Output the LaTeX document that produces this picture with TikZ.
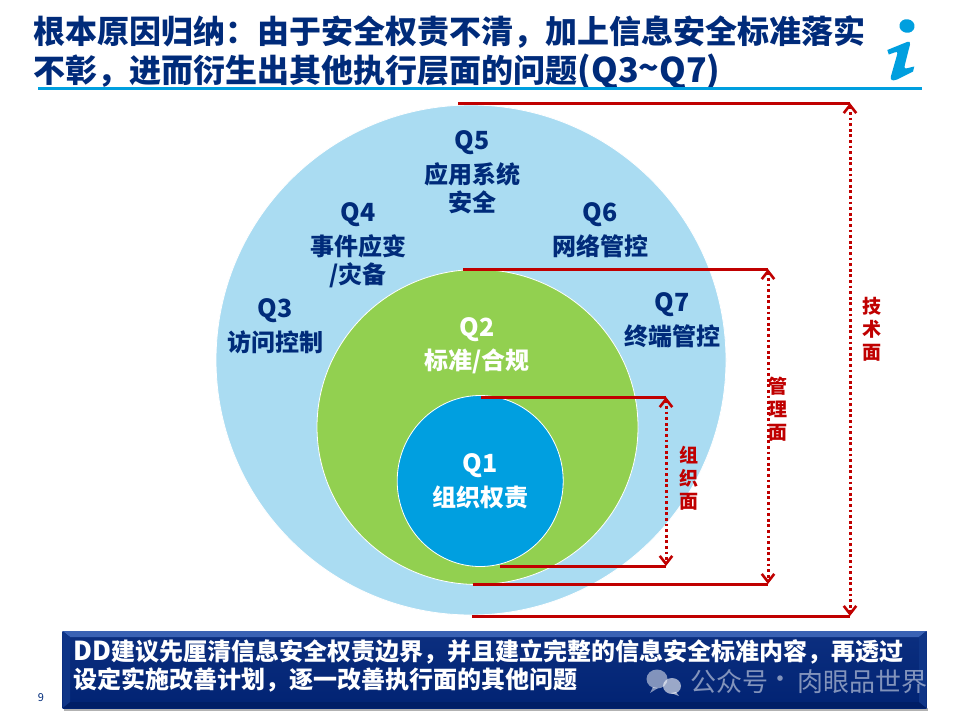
\documentclass[tikz,border=0pt]{standalone}
\usepackage{fontspec}
\setmainfont{Noto Sans CJK SC}
\usetikzlibrary{arrows.meta,shapes.geometric}
\definecolor{navy}{HTML}{002B7A}
\definecolor{skyc}{HTML}{AADCF2}
\definecolor{greenc}{HTML}{92D050}
\definecolor{bluec}{HTML}{009FE0}
\definecolor{redc}{HTML}{C00000}
\definecolor{rulec}{HTML}{009FDF}
\definecolor{boxtop}{HTML}{0C2F80}
\definecolor{boxbot}{HTML}{012373}
\definecolor{bevtop}{HTML}{3A62B4}
\definecolor{bevbot}{HTML}{001E66}
\definecolor{bevside}{HTML}{0F3587}
\tikzset{
  lab/.style={font=\fontsize{24}{28}\selectfont\bfseries,text=navy,inner sep=0pt,align=center},
  qlab/.style={lab,font=\fontsize{25}{28}\selectfont\bfseries},
  wlab/.style={lab,text=white},
  wqlab/.style={qlab,text=white},
  ring/.style={ellipse,draw=white,line width=0.8pt,inner sep=0pt},
  rline/.style={draw=redc,line width=3pt},
  rdim/.style={draw=redc,line width=3pt,dash pattern=on 2.8pt off 2.8pt,
     {Straight Barb[length=8pt,width=12.5pt,line width=2.6pt]}-{Straight Barb[length=8pt,width=12.5pt,line width=2.6pt]}},
  rlab/.style={font=\fontsize{19}{23}\selectfont\bfseries,text=redc,inner sep=0pt,align=center},
  ttl/.style={font=\fontsize{32}{40}\selectfont\bfseries,text=navy,anchor=west,inner sep=0pt},
  btxt/.style={font=\fontsize{24}{30}\selectfont\bfseries,text=white,anchor=west,inner sep=0pt},
  wmk/.style={font=\fontsize{26}{30}\selectfont,text=white,opacity=0.5,anchor=west,inner sep=0pt},
}
\begin{document}
\begin{tikzpicture}[x=1pt,y=-1pt]
\useasboundingbox (0,0) rectangle (960,720);
\fill[white] (0,0) rectangle (960,720);
% title
\node[ttl] (t1) at (33.5,32) {根本原因归纳：由于安全权责不清，加上信息安全标准落实};
\node[ttl] (t2) at (33.5,72) {不彰，进而衍生出其他执行层面的问题{\fontsize{34}{40}\selectfont(Q3\raisebox{0.1ex}{\textasciitilde}Q7)}};
\fill[rulec] (38,86.5) rectangle (921.5,89.5);
% i logo
\fill[rulec,rotate around={-10:(907,26)}] (907,26) ellipse (7.6pt and 6.8pt);
\fill[rulec] (887.3,50) -- (907,42) .. controls (909.5,41) and (910.5,42) .. (910,44.5)
  -- (904.8,65) .. controls (904,68.5) and (905,69) .. (908,68) -- (914.3,66.5)
  -- (913,71.5) -- (897,79.5) .. controls (892,81.5) and (890,80) .. (891,76)
  -- (897.3,54) .. controls (897.8,52) and (897,51.5) .. (895,52.3) -- (888.8,54.5) -- cycle;
% circles
\node[ring,minimum width=510pt,minimum height=510pt,fill=skyc] (c3) at (471,360) {};
\node[ring,minimum width=321pt,minimum height=315pt,fill=greenc] (c2) at (477.5,427) {};
\node[ring,minimum width=166pt,minimum height=171pt,fill=bluec] (c1) at (480.2,481) {};
% labels
\node[qlab] (q5) at (472,143) {Q5};
\node[lab] (q5a) at (472,174) {应用系统};
\node[lab] (q5b) at (472,202) {安全};
\node[qlab] (q4) at (358,215) {Q4};
\node[lab] (q4a) at (358,246) {事件应变};
\node[lab] (q4b) at (358,275) {/灾备};
\node[qlab] (q6) at (600,215) {Q6};
\node[lab] (q6a) at (600,246) {网络管控};
\node[qlab] (q3) at (275,311) {Q3};
\node[lab] (q3a) at (275,342) {访问控制};
\node[qlab] (q7) at (672,305) {Q7};
\node[lab] (q7a) at (672,336) {终端管控};
\node[wqlab] (q2) at (477,330) {Q2};
\node[wlab] (q2a) at (477,361) {标准/合规};
\node[wqlab] (q1) at (480,465.5) {Q1};
\node[wlab] (q1a) at (480,497) {组织权责};
% dimension lines
\coordinate (a1) at (458,103); \coordinate (a2) at (850,103);
\coordinate (a3) at (850,616); \coordinate (a4) at (472,616);
\coordinate (b1) at (463,269); \coordinate (b2) at (768,269);
\coordinate (b3) at (768,584); \coordinate (b4) at (473,584);
\coordinate (d1) at (481,397); \coordinate (d2) at (666,397);
\coordinate (d3) at (666,566); \coordinate (d4) at (500,566);
\draw[rline] (a1) -- (a2);
\draw[rline] (a4) -- (a3);
\draw[rdim] (a2) -- (a3);
\draw[rline] (b1) -- (b2);
\draw[rline] (b4) -- (b3);
\draw[rdim] (b2) -- (b3);
\draw[rline] (d1) -- (d2);
\draw[rline] (d4) -- (d3);
\draw[rdim] (d2) -- (d3);
\node[rlab] (l3) at (871.5,329) {技\\术\\面};
\node[rlab] (l2) at (777.5,409) {管\\理\\面};
\node[rlab] (l1) at (688.5,478) {组\\织\\面};
% bottom box
\fill[black!30] (64,708) rectangle (928,711);
\shade[top color=boxtop,bottom color=boxbot] (62.5,631) rectangle (926.5,708);
\fill[bevtop] (62.5,631) -- (926.5,631) -- (919,637) -- (70,637) -- cycle;
\fill[bevbot] (62.5,708) -- (926.5,708) -- (919,702) -- (70,702) -- cycle;
\fill[bevside] (926.5,631) -- (926.5,708) -- (919,702) -- (919,637) -- cycle;
\fill[bevside] (62.5,631) -- (62.5,708) -- (70,702) -- (70,637) -- cycle;
\node[btxt] (b1t) at (73,652) {{\fontsize{26}{30}\selectfont DD}建议先厘清信息安全权责边界，并且建立完整的信息安全标准内容，再透过};
\node[btxt] (b2t) at (73,680) {设定实施改善计划，逐一改善执行面的其他问题};
% watermark
\fill[white,opacity=0.5] (657,679) ellipse (10.5pt and 9.5pt);
\fill[white,opacity=0.5] (653,687) -- (650,693) -- (658,688) -- cycle;
\fill[white,opacity=0.6] (672,686) ellipse (9pt and 8pt);
\fill[white,opacity=0.6] (676,692) -- (679,696) -- (671,693) -- cycle;
\node[wmk] (w1) at (690,682) {公众号};
\node[wmk,anchor=center] (w3) at (780,682) {·};
\node[wmk] (w2) at (797,682) {肉眼品世界};
\node[font=\fontsize{11}{13}\selectfont,text=navy,inner sep=0pt] (pg) at (41,698) {9};
\end{tikzpicture}
\end{document}
